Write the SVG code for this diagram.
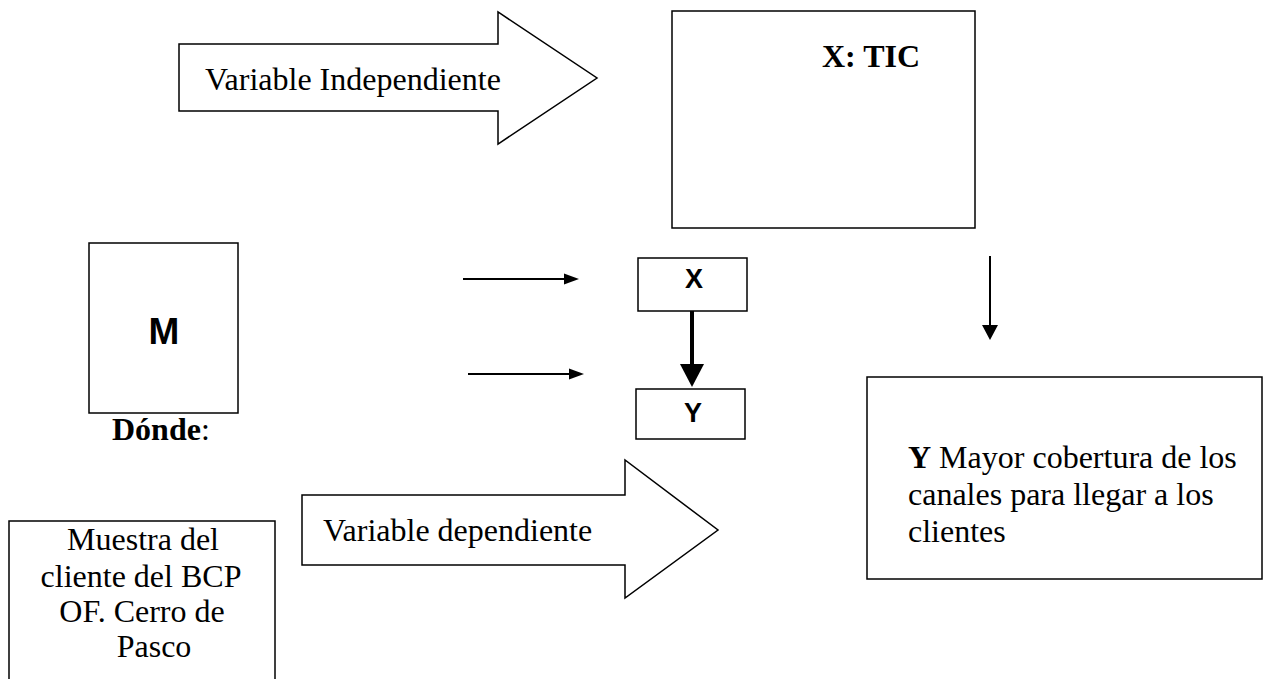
<svg xmlns="http://www.w3.org/2000/svg" width="1270" height="679" viewBox="0 0 1270 679">
<style>
.box{fill:#fff;stroke:#000;stroke-width:1.5}
.t{font-family:"Liberation Serif","Times New Roman",serif;font-size:32px;fill:#000}
.b{font-weight:bold}
.a{font-family:"Liberation Sans",Arial,sans-serif;font-weight:bold;fill:#000}
.ln{stroke:#000;fill:none}
</style>
<rect width="1270" height="679" fill="#fff"/>
<g id="arrow-independiente">
<path class="box" d="M179,44 H498 V12 L597,78 L498,144 V111 H179 Z"/>
<text class="t" x="205" y="90">Variable Independiente</text>
</g>
<g id="box-tic">
<rect class="box" x="672" y="11" width="303" height="217"/>
<text class="t b" x="822" y="67">X: TIC</text>
</g>
<g id="box-m">
<rect class="box" x="89" y="243" width="149" height="170"/>
<text class="a" x="164" y="344" font-size="37" text-anchor="middle">M</text>
</g>
<g id="label-donde">
<text class="t" x="112" y="440"><tspan class="b">Dónde</tspan>:</text>
</g>
<g id="box-x">
<rect class="box" x="638" y="258" width="109" height="53"/>
<text class="a" x="694" y="288" font-size="27" text-anchor="middle">X</text>
</g>
<g id="box-y">
<rect class="box" x="636" y="389" width="109" height="50"/>
<text class="a" x="693" y="422" font-size="27" text-anchor="middle">Y</text>
</g>
<g id="box-muestra">
<rect class="box" x="9" y="521" width="266" height="170"/>
<text class="t" text-anchor="middle"><tspan x="143" y="550">Muestra del</tspan><tspan x="141" y="587">cliente del BCP</tspan><tspan x="142" y="622">OF. Cerro de</tspan><tspan x="154" y="657">Pasco</tspan></text>
</g>
<g id="arrow-dependiente">
<path class="box" d="M302,495 H625 V460 L718,530 L625,598 V565 H302 Z"/>
<text class="t" x="323" y="541">Variable dependiente</text>
</g>
<g id="box-y-desc">
<rect class="box" x="867" y="377" width="395" height="202"/>
<text class="t"><tspan x="908" y="468"><tspan class="b">Y</tspan> Mayor cobertura de los</tspan><tspan x="908" y="505">canales para llegar a los</tspan><tspan x="908" y="542">clientes</tspan></text>
</g>
<g id="connectors">
<line class="ln" x1="463" y1="279" x2="564" y2="279" stroke-width="2"/>
<path d="M564,273.5 L579,279 L564,284.5 Z"/>
<line class="ln" x1="468" y1="374" x2="569" y2="374" stroke-width="2"/>
<path d="M569,368.5 L584,374 L569,379.5 Z"/>
<line class="ln" x1="692" y1="311" x2="692" y2="366" stroke-width="4"/>
<path d="M680,364 L704,364 L692,387 Z"/>
<line class="ln" x1="990" y1="256" x2="990" y2="326" stroke-width="2"/>
<path d="M982,325 L998,325 L990,340 Z"/>
</g>
</svg>
